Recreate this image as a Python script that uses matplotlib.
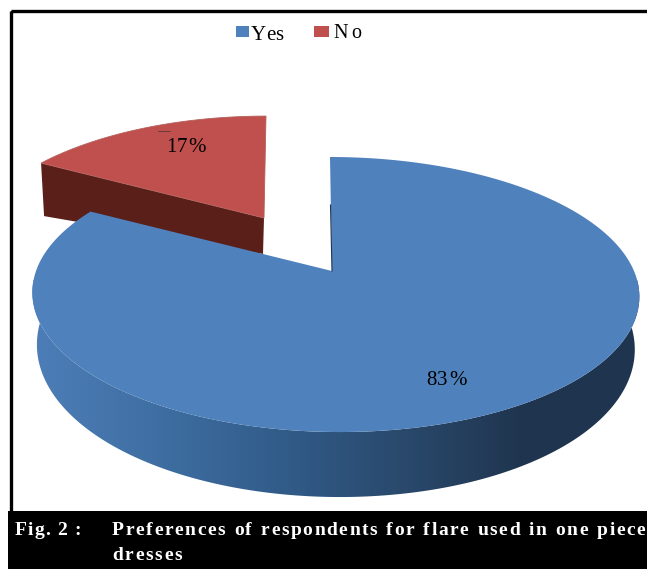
import numpy as np
import matplotlib
matplotlib.use("Agg")
from matplotlib import pyplot as plt
from matplotlib.colors import LinearSegmentedColormap
from matplotlib.font_manager import FontProperties
from matplotlib.patches import Polygon, Rectangle
from matplotlib.textpath import TextToPath

plt.rcParams['font.family'] = ['Liberation Serif', 'DejaVu Serif']

categories = ["Yes", "No"]
shares = [83, 17]
share_labels = ["83%", "17%"]
caption_head = "Fig. 2 :"
caption_lines = ["Preferences of respondents for flare used in one piece", "dresses"]

blue_top = "#4f81bd"
red_top = "#c0504d"
red_wall = "#591f18"
wall_colors = ["#4d7eb8", "#3f6fa3", "#325d8b", "#2a4a6e", "#203650", "#1f344e"]


def rim(angles, cx, ay0, a, b, k, shear):
    # perspective projection of a unit disc, angle clockwise from 12 o'clock
    u = np.sin(angles)
    v = np.cos(angles)
    w = 1 + k * v
    return cx + a * u / w - shear * v, ay0 - b * v / w


def spaced_text(ax, x, y, s, size, extra, **kw):
    # matplotlib has no letter spacing, so place the characters one by one
    fp = FontProperties(family='Liberation Serif', weight=kw.get('weight', 'normal'), size=size)
    t2p = TextToPath()
    for ch in s:
        ax.text(x, y, ch, fontproperties=fp, va='baseline', ha='left',
                color=kw.get('color', 'black'), zorder=kw.get('zorder', 5))
        wid, _, _ = t2p.get_text_width_height_descent(ch, fp, False)
        x += wid * 100 / 72 + extra
        if ch == " ":
            x += kw.get('word', 0)


fig = plt.figure(figsize=(6.47, 5.69), dpi=100)
ax = fig.add_axes([0, 0, 1, 1])

sweep = 2 * np.pi * shares[0] / sum(shares)

# exploded slice
t = np.linspace(sweep, 2 * np.pi, 80)
rx, ry = rim(t, 264, 218, 287, 128, 0.256, -2)
lx, ly = rx[0], ry[0]
ax.add_patch(Polygon([(lx, ly), (264, 218), (263, 254), (lx + 3, ly + 53)],
                     closed=True, fc=red_wall, ec='none'))
ax.add_patch(Polygon(np.vstack([np.column_stack([rx, ry]), [[264, 218]]]), closed=True,
                     fc=red_top, ec='#b5605c', lw=0.6))
ax.plot([158, 170], [130.5, 130.5], color="#5a3a38", lw=0.6)

# big slice wall with the dark-to-the-right shading
t = np.linspace(np.radians(70), np.radians(292), 200)
tx, ty = rim(t, 335, 271, 299, 133.5, 0.171, 5)
depth = 50 - 15 * np.cos(t)
bx = 335 + (tx - 335) * 0.985
by = ty + depth
wall = Polygon(np.vstack([np.column_stack([tx, ty]), np.column_stack([bx, by])[::-1]]),
               closed=True, fc='none', ec='none')
ax.add_patch(wall)
cmap = LinearSegmentedColormap.from_list("wall", wall_colors)
im = ax.imshow(np.linspace(0, 1, 256).reshape(1, -1), cmap=cmap, aspect='auto',
               extent=(30, 640, 500, 280), zorder=2)
im.set_clip_path(wall)

# big slice top
t = np.linspace(0, sweep, 240)
tx, ty = rim(t, 335, 271, 299, 133.5, 0.171, 5)
ax.add_patch(Polygon(np.vstack([np.column_stack([tx, ty]), [[332, 271]]]), closed=True,
                     fc=blue_top, ec='none', zorder=3))
ax.plot([330.5, 332], [205, 271], color="#1f3550", lw=0.8, zorder=4)

spaced_text(ax, 426, 385, share_labels[0], 15, 1)
spaced_text(ax, 166, 152, share_labels[1], 15, 0.6)

# legend
ax.add_patch(Rectangle((236, 26), 13, 11, fc=blue_top, ec='none'))
spaced_text(ax, 251, 40, categories[0], 15, 0)
ax.add_patch(Rectangle((314, 26), 15, 11, fc=red_top, ec='none'))
spaced_text(ax, 333, 38, categories[1], 14.5, 4)

# frame and caption band
ax.add_patch(Rectangle((10.5, 11), 700, 600, fc='none', ec='black', lw=2.4, zorder=6))
ax.add_patch(Rectangle((8, 511), 700, 80, fc='black', ec='none', zorder=7))
spaced_text(ax, 15, 535, caption_head, 14, 1.1, weight='bold', color='white', zorder=8)
spaced_text(ax, 112, 535, caption_lines[0], 14, 1.58, weight='bold', color='white', zorder=8, word=1)
spaced_text(ax, 112, 560, caption_lines[1], 14, 1.8, weight='bold', color='white', zorder=8, word=1)

ax.set_xlim(0, 647)
ax.set_ylim(569, 0)
ax.axis('off')
fig.savefig("out.png", dpi=100)
